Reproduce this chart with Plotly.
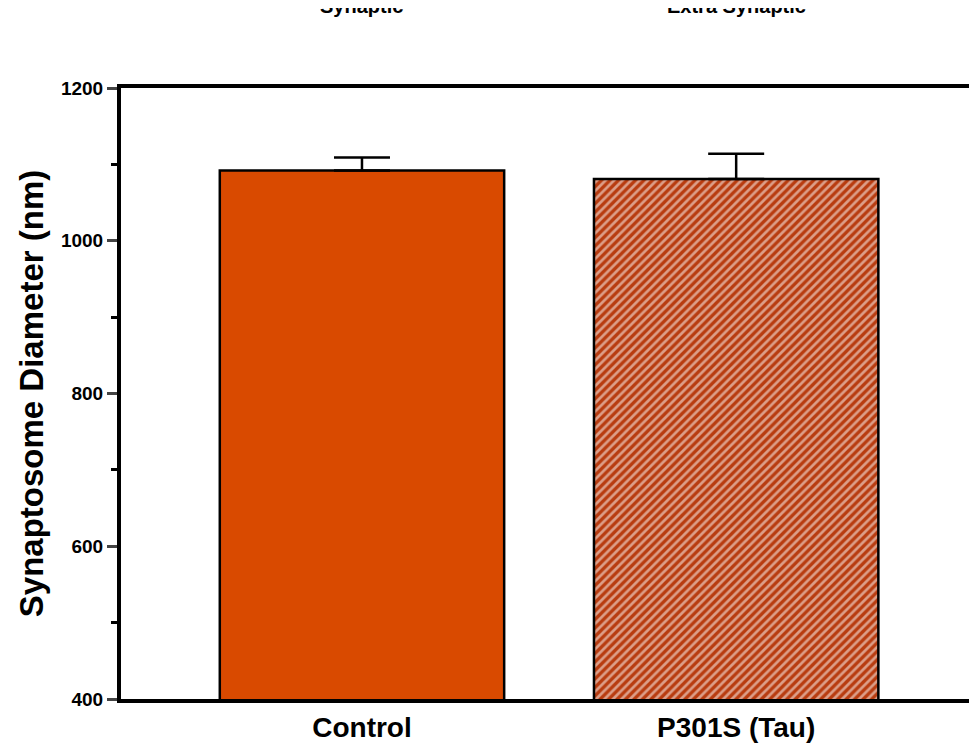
import plotly.graph_objects as go

categories = ["Control", "P301S (Tau)"]
means = [1092, 1081]
errors = [17, 33]
colors = ["#d94a00", "#b83c10"]
y_ticks = [400, 600, 800, 1000, 1200]

fig = go.Figure()
fig.add_trace(go.Bar(
    x=[0, 1], y=means, width=0.76,
    marker=dict(color=colors, line=dict(color="black", width=2.5),
                pattern=dict(shape=["", "/"], fillmode="overlay", fgcolor="#1a0805",
                             size=6, solidity=0.45)),
    error_y=dict(type="data", symmetric=False, array=errors, arrayminus=[0, 0],
                 color="black", thickness=2.5, width=28),
))
fig.update_layout(
    width=977, height=749, margin=dict(l=113, r=0, t=80, b=58),
    plot_bgcolor="white", paper_bgcolor="white", showlegend=False,
    font=dict(family="Liberation Sans, Arial", color="black"),
    xaxis=dict(range=[-0.644, 1.665], tickvals=[0, 1], ticktext=categories,
               tickfont=dict(size=28, family="Liberation Sans", weight="bold"),
               showline=True, linecolor="black", linewidth=4, mirror=True, ticks="", showgrid=False),
    yaxis=dict(range=[400, 1200], tickvals=y_ticks, showgrid=False, zeroline=False,
               showline=True, linecolor="black", linewidth=4, ticks="outside", ticklen=10, tickwidth=3,
               tickfont=dict(size=19, weight="bold"),
               minor=dict(dtick=100, ticks="outside", ticklen=6, tickwidth=3, tickcolor="black"),
               title=dict(text="Synaptosome Diameter (nm)", font=dict(size=33, weight="bold"), standoff=8)),
)
fig.add_annotation(x=0, y=1.135, xref="x", yref="paper", text="Synaptic", showarrow=False,
                   font=dict(size=20, weight="bold"), yanchor="middle")
fig.add_annotation(x=1, y=1.135, xref="x", yref="paper", text="Extra Synaptic", showarrow=False,
                   font=dict(size=20, weight="bold"), yanchor="middle")
fig.write_html("out.html")
